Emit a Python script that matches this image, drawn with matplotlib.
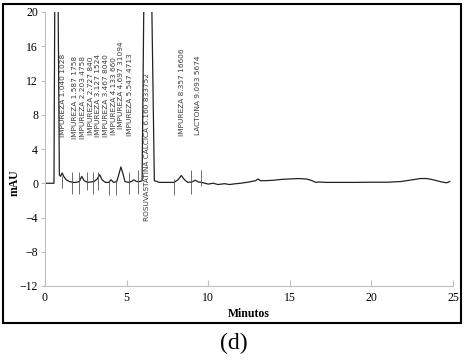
import matplotlib.pyplot as plt
from matplotlib.patches import Rectangle

# chromatogram trace (minutes, mAU)
tiempo = [0, 0.55, 0.6, 0.7, 0.8, 0.88, 0.95, 1.05, 1.15, 1.3, 1.5, 1.7, 1.9, 2.1,
          2.25, 2.4, 2.6, 2.8, 3.0, 3.2, 3.35, 3.5, 3.7, 3.9, 4.05, 4.2, 4.4, 4.55,
          4.65, 4.75, 4.9, 5.1, 5.3, 5.45, 5.6, 5.8, 5.95, 6.05, 6.3, 6.55, 6.7,
          7.0, 7.5, 7.9, 8.15, 8.35, 8.55, 8.75, 9.0, 9.2, 9.4, 9.6, 10.0, 10.3,
          10.6, 11.0, 11.3, 11.7, 12.0, 12.5, 12.9, 13.05, 13.2, 13.5, 14.0, 14.5,
          15.0, 15.5, 16.0, 16.3, 16.6, 16.8, 17.2, 18, 19, 20, 21, 21.8, 22.5,
          23.0, 23.4, 23.8, 24.2, 24.6, 24.8]
mau = [0, 0, 22, 45, 22, 1.0, 0.8, 1.2, 0.8, 0.4, 0.2, 0.1, 0.1, 0.2,
       0.8, 0.3, 0.1, 0.15, 0.2, 0.5, 1.0, 0.4, 0.1, 0.1, 0.4, 0.1, 0.2, 1.2,
       1.9, 1.3, 0.2, 0.1, 0.2, 0.4, 0.2, 0.2, 0.3, 20, 80, 20, 0.3,
       0.1, 0.1, 0.1, 0.4, 0.9, 0.4, 0.1, 0.15, 0.35, 0.15, 0.1, -0.1, 0.0,
       -0.15, -0.05, -0.15, -0.05, 0.0, 0.15, 0.3, 0.5, 0.3, 0.3, 0.35, 0.45,
       0.5, 0.55, 0.5, 0.35, 0.1, 0.15, 0.1, 0.1, 0.1, 0.12, 0.12, 0.2, 0.4,
       0.55, 0.55, 0.4, 0.2, 0.05, 0.2]

# peak labels
etiquetas = ["IMPUREZA 1.040 1028", "IMPUREZA 1.587 1758", "IMPUREZA 2.203 4758",
             "IMPUREZA 2.727 840", "IMPUREZA 3.127 1524", "IMPUREZA 3.467 8040",
             "IMPUREZA 4.133 660", "IMPUREZA 4.697 31094", "IMPUREZA 5.547 4713",
             "ROSUVASTATINA CALCICA 6.160 833752", "IMPUREZA 8.357 16606",
             "LACTONA 9.093 5674"]
pos_etiqueta = [1.1, 1.85, 2.33, 2.8, 3.27, 3.74, 4.2, 4.66, 5.2, 6.27, 8.4, 9.4]
centro_etiqueta = [10.3, 10.0, 10.0, 10.2, 10.2, 10.2, 10.2, 11.4, 10.4, 4.2, 10.6, 10.3]

# integration event marks
marcas = [1.06, 1.68, 2.09, 2.56, 2.95, 3.27, 3.93, 4.38, 5.12, 5.67, 7.92, 8.95, 9.56]
marca_arriba = [0.9, 1.3, 1.3, 1.3, 1.3, 1.3, 0.35, 0.35, 1.3, 1.5, 0.5, 1.6, 1.6]
marca_abajo = [-0.5, -1.2, -1.2, -0.8, -1.2, -0.8, -1.4, -1.4, -1.2, -1.2, -1.4, -1.2, -0.3]

fig = plt.figure(figsize=(4.68, 3.61), dpi=100)
ax = fig.add_axes([45/468, 1-286/361, (453-45)/468, (286-12)/361])

ax.plot(tiempo, mau, color='#222222', lw=0.9)
ax.vlines(marcas, marca_abajo, marca_arriba, color='#555555', lw=0.6)
for txt, x, yc in zip(etiquetas, pos_etiqueta, centro_etiqueta):
    ax.text(x, yc, txt, rotation=90, ha='center', va='center', fontsize=5.3,
            color='#3a3a3a', family='DejaVu Sans')

ax.set_xlim(0, 25)
ax.set_ylim(-12, 20)
ax.set_xticks([0, 5, 10, 15, 20, 25])
ax.set_yticks(range(-12, 21, 4))
for s in ['top', 'right']:
    ax.spines[s].set_visible(False)
for s in ['left', 'bottom']:
    ax.spines[s].set_color('#bfbfbf')
ax.tick_params(axis='y', direction='out', length=3, color='#bfbfbf', labelsize=8.5, pad=2)
ax.tick_params(axis='x', direction='in', length=4, color='#bfbfbf', labelsize=8.5, pad=4)
for lab in ax.get_xticklabels() + ax.get_yticklabels():
    lab.set_family('Liberation Serif')

fig.text(15/468, 1-183/361, 'mAU', rotation=90, ha='center', va='center',
         family='Liberation Serif', fontweight='bold', fontsize=8.5)
fig.text(249/468, 1-314/361, 'Minutos', ha='center', va='center',
         family='Liberation Serif', fontweight='bold', fontsize=8.5)
fig.text(234/468, 1-343/361, '(d)', ha='center', va='center',
         family='Liberation Serif', fontsize=17)

fig.patches.append(Rectangle((3/468, 1-323/361), (461-3)/468, (323-4)/361,
                             transform=fig.transFigure, fill=False,
                             edgecolor='black', lw=1.5))

fig.savefig('out.png', dpi=100)
